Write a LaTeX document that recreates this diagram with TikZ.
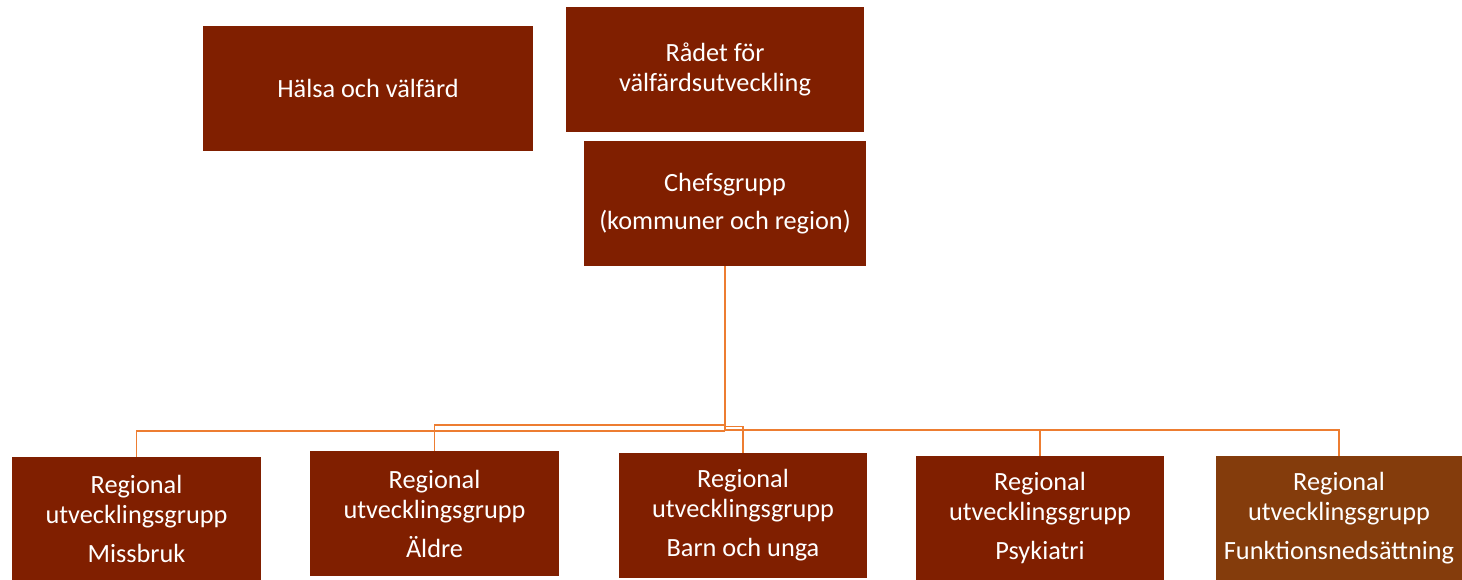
\documentclass[tikz,border=0pt]{standalone}
\usepackage{fontspec}
\setmainfont{Carlito}
\definecolor{boxred}{RGB}{128,31,0}
\definecolor{boxbrown}{RGB}{132,60,12}
\definecolor{conn}{RGB}{237,125,49}
\tikzset{
  orgbox/.style={fill=boxred, draw=none, text=white, align=center, inner sep=0pt,
    font=\fontsize{26.3}{30}\selectfont},
  connline/.style={draw=conn, line width=1.2pt}
}
\begin{document}
\begin{tikzpicture}[x=1pt,y=-1pt]
\fill[white] (0,0) rectangle (1462,580);
\useasboundingbox (0,0) rectangle (1462,580);
\node[orgbox, minimum width=330pt, minimum height=125pt] (halsa) at (368,88.5) {Hälsa och välfärd};
\node[orgbox, minimum width=298pt, minimum height=125pt] (radet) at (715,69.5) {Rådet för\\välfärdsutveckling};
\node[orgbox, minimum width=282pt, minimum height=125pt] (chef) at (725,203.5) {Chefsgrupp\\[8pt](kommuner och region)};
\node[orgbox, minimum width=249pt, minimum height=123pt] (miss) at (136.5,518.5) {Regional\\utvecklingsgrupp\\[9pt]Missbruk};
\node[orgbox, minimum width=249pt, minimum height=125pt] (ald) at (434.5,513.5) {Regional\\utvecklingsgrupp\\[9pt]Äldre};
\node[orgbox, minimum width=248pt, minimum height=125pt] (barn) at (743,515.5) {Regional\\utvecklingsgrupp\\[9pt]Barn och unga};
\node[orgbox, minimum width=248pt, minimum height=124pt] (psyk) at (1040,518) {Regional\\utvecklingsgrupp\\[9pt]Psykiatri};
\node[orgbox, fill=boxbrown, minimum width=246pt, minimum height=124pt] (funk) at (1339,518) {Regional\\utvecklingsgrupp\\[9pt]Funktionsnedsättning};
\coordinate (tm) at (chef.south |- 0,431);
\coordinate (ta) at (chef.south |- 0,425);
\coordinate (tb) at (chef.south |- 0,426.7);
\coordinate (tp) at (chef.south |- 0,430);
\draw[connline] (chef.south) -- (tm);
\draw[connline] (tm) -| (miss.north);
\draw[connline] (ta) -| (ald.north);
\draw[connline] (tb) -| (barn.north);
\draw[connline] (tp) -| (psyk.north);
\draw[connline] (tp) -| (funk.north);
\end{tikzpicture}
\end{document}
